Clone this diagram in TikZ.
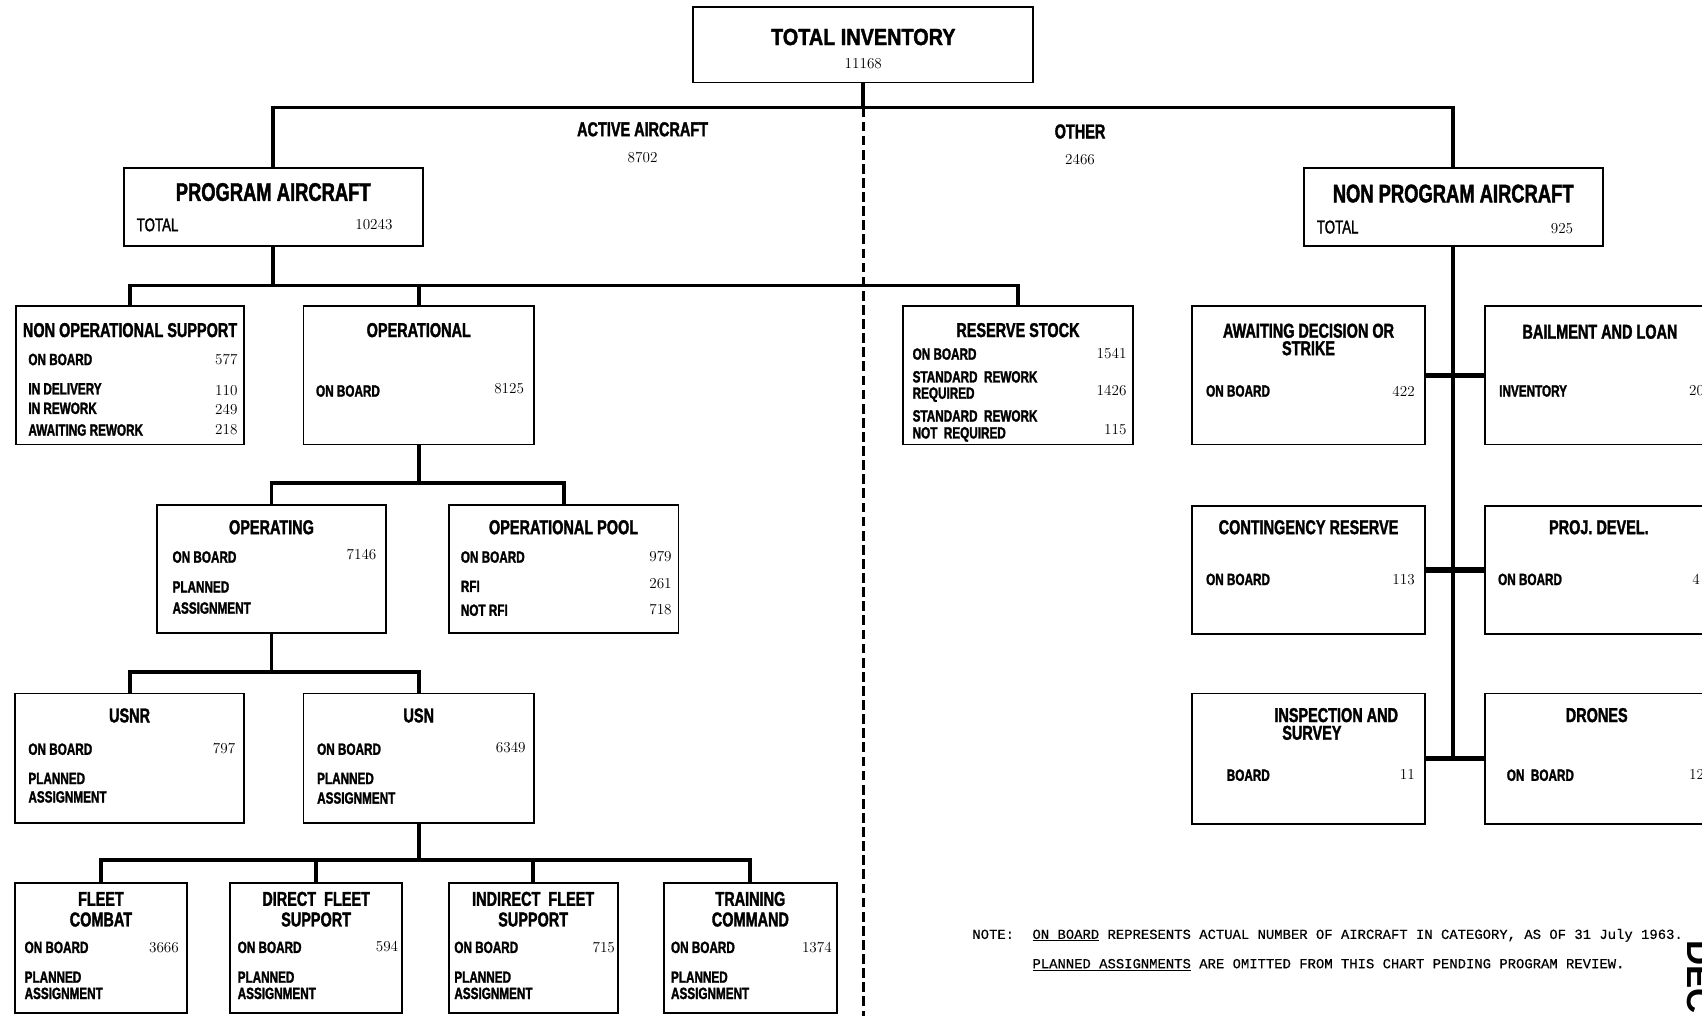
\documentclass[tikz,border=0pt]{standalone}
\usepackage{fontspec}
\usepackage{tikz}
\usetikzlibrary{calc}

\newfontfamily\lblfont[FakeStretch=0.72,FakeBold=1.6]{Liberation Sans}
\newfontfamily\widefont[FakeStretch=0.85,FakeBold=1.6]{Liberation Sans}
\newfontfamily\typfont[FakeBold=0.4]{Liberation Mono}
\newfontfamily\stampfont{Liberation Sans}

\tikzset{
	box/.style 2 args={draw, line width=1.6pt, inner sep=0pt, minimum width=#1, minimum height=#2},
	ttl/.style={font={\lblfont\bfseries\fontsize{18.5}{19}\selectfont}, inner sep=0pt, text height=13pt, text depth=0pt},
	bigttl/.style={font={\lblfont\bfseries\fontsize{23.5}{24}\selectfont}, inner sep=0pt, text height=16.8pt, text depth=0pt},
	row/.style={font={\lblfont\bfseries\fontsize{15}{16}\selectfont}, anchor=west, inner sep=0pt, text height=10.7pt, text depth=0pt},
	tot/.style={font={\lblfont\fontsize{17}{18}\selectfont}, anchor=west, inner sep=0pt, text height=12pt, text depth=0pt},
	num/.style={font={\fontsize{14}{15}\selectfont}, inner sep=0pt, text height=9pt, text depth=0pt},
	conn/.style={line width=3.6pt},
	link/.style={line width=5pt},
	dashline/.style={line width=3pt, dash pattern=on 9pt off 4pt},
	note/.style={font={\typfont\fontsize{12.8}{14}\selectfont}, anchor=base west, inner sep=0pt}
}

\begin{document}
\begin{tikzpicture}[x=1pt, y=-1pt]

	\useasboundingbox (0,0) rectangle (1568,936);
	\clip (0,0) rectangle (1568,936);

	% boxes
	\node[box={313.2pt}{69.5pt}]   (ti)   at (795.3,41.25) {};
	\node[box={275.6pt}{72pt}]     (pa)   at (251.7,190.5) {};
	\node[box={275.5pt}{72pt}]     (npa)  at (1338.75,190.5) {};

	\node[box={209.7pt}{127.5pt}]  (nos)  at (119.85,345.75) {};
	\node[box={212.4pt}{127.5pt}]  (ops)  at (385.8,345.75) {};
	\node[box={212.4pt}{127.5pt}]  (rs)   at (937.8,345.75) {};
	\node[box={215pt}{127.5pt}]    (ads)  at (1205.5,345.75) {};
	\node[box={212pt}{127.5pt}]    (bl)   at (1474,345.75) {};

	\node[box={210.8pt}{118pt}]    (opg)  at (250.1,524) {};
	\node[box={211.6pt}{118pt}]    (pool) at (519.2,524) {};
	\node[box={215pt}{118pt}]      (cr)   at (1205.5,525) {};
	\node[box={212pt}{118pt}]      (pd)   at (1474,525) {};

	\node[box={210.7pt}{119pt}]    (usnr) at (119.35,698.5) {};
	\node[box={212.4pt}{119pt}]    (usn)  at (385.8,698.5) {};
	\node[box={215pt}{120pt}]      (ins)  at (1205.5,699) {};
	\node[box={212pt}{120pt}]      (dr)   at (1474,699) {};

	\node[box={158pt}{119.3pt}]    (fc)   at (93,873.35) {};
	\node[box={158.5pt}{119.3pt}]  (dfs)  at (291.25,873.35) {};
	\node[box={155.6pt}{119.3pt}]  (ifs)  at (491.2,873.35) {};
	\node[box={159.4pt}{119.3pt}]  (tc)   at (691.3,873.35) {};

	% bus lines
	\coordinate (topbus) at (0,99);
	\coordinate (pabus)  at (0,263);
	\coordinate (opsbus) at (0,444.7);
	\coordinate (opgbus) at (0,618.8);
	\coordinate (usnbus) at (0,792);
	\coordinate (foot)   at (0,940);

	\draw[dashline] (ti.south |- topbus) -- (ti.south |- foot);

	\draw[conn] (ti.south) -- (ti.south |- topbus);
	\draw[conn] (pa.north) -- (pa.north |- topbus) -- (npa.north |- topbus) -- (npa.north);

	\draw[conn] (pa.south) -- (pa.south |- pabus);
	\draw[conn] (nos.north) -- (nos.north |- pabus) -- (rs.north |- pabus) -- (rs.north);
	\draw[conn] (ops.north) -- (ops.north |- pabus);

	\draw[conn] (ops.south) -- (ops.south |- opsbus);
	\draw[conn] (opg.north) -- (opg.north |- opsbus) -- (pool.north |- opsbus) -- (pool.north);

	\draw[conn] (opg.south) -- (opg.south |- opgbus);
	\draw[conn] (usnr.north) -- (usnr.north |- opgbus) -- (usn.north |- opgbus) -- (usn.north);

	\draw[conn] (usn.south) -- (usn.south |- usnbus);
	\draw[conn] (fc.north) -- (fc.north |- usnbus) -- (tc.north |- usnbus) -- (tc.north);
	\draw[conn] (dfs.north) -- (dfs.north |- usnbus);
	\draw[conn] (ifs.north) -- (ifs.north |- usnbus);

	% non program column
	\draw[conn] (npa.south) -- (npa.south |- ins.east);
	\draw[link] (ads.east) -- (bl.west);
	\draw[link] (cr.east) -- (pd.west);
	\draw[link] (ins.east) -- (dr.west);

	% headings
	\node[font={\widefont\bfseries\fontsize{21.5}{22}\selectfont}, inner sep=0pt, text height=15.4pt, text depth=0pt] (tit) at (795.3,33.8) {TOTAL INVENTORY};
	\node[num] at (795.3,58.3) {11168};
	\node[ttl] (act) at (592,119) {ACTIVE AIRCRAFT};
	\node[num] at (592,145) {8702};
	\node[ttl] (oth) at (995,121) {OTHER};
	\node[num] at (995,147) {2466};

	\node[bigttl] at (251.7,176.6) {PROGRAM AIRCRAFT};
	\node[tot] at (125.8,207) {TOTAL};
	\node[num] at (344.5,207) {10243};

	\node[bigttl] at (1338.75,178) {NON PROGRAM AIRCRAFT};
	\node[tot] at (1213,209) {TOTAL};
	\node[num] at (1439,211) {925};

	% non operational support
	\node[ttl] at (119.85,304) {NON OPERATIONAL SUPPORT};
	\node[row] at (26,331) {ON BOARD};
	\node[row] at (26,358) {IN DELIVERY};
	\node[row] at (26,376) {IN REWORK};
	\node[row] at (26,396) {AWAITING REWORK};
	\node[num, anchor=east] at (219,331) {577};
	\node[num, anchor=east] at (219,360) {110};
	\node[num, anchor=east] at (219,377) {249};
	\node[num, anchor=east] at (219,396) {218};

	% operational
	\node[ttl] at (385.8,304) {OPERATIONAL};
	\node[row] at (291,360) {ON BOARD};
	\node[num, anchor=east] at (483,358) {8125};

	% reserve stock
	\node[ttl] at (937.8,304) {RESERVE STOCK};
	\node[row] at (840.6,326) {ON BOARD};
	\node[row] at (840.6,347) {STANDARD\ \ REWORK};
	\node[row] at (840.6,362) {REQUIRED};
	\node[row] at (840.6,383) {STANDARD\ \ REWORK};
	\node[row] at (840.6,398.6) {NOT\ \ REQUIRED};
	\node[num, anchor=east] at (1038,326) {1541};
	\node[num, anchor=east] at (1038,360) {1426};
	\node[num, anchor=east] at (1038,396) {115};

	% awaiting decision / bailment
	\node[ttl] at (1205.5,304.6) {AWAITING DECISION OR};
	\node[ttl] at (1205.5,320.7) {STRIKE};
	\node[row] at (1111,360) {ON BOARD};
	\node[num, anchor=east] at (1303.6,361) {422};
	\node[ttl] at (1474,305.5) {BAILMENT AND LOAN};
	\node[row] at (1381,360) {INVENTORY};
	\node[num, anchor=west] at (1556,360) {20};

	% operating / pool
	\node[ttl] at (250.1,485.6) {OPERATING};
	\node[row] at (158.8,513) {ON BOARD};
	\node[row] at (158.8,540.5) {PLANNED};
	\node[row] at (158.8,560) {ASSIGNMENT};
	\node[num, anchor=east] at (347,511) {7146};

	\node[ttl] at (519.2,485.6) {OPERATIONAL POOL};
	\node[row] at (424.4,513) {ON BOARD};
	\node[row] at (424.4,540) {RFI};
	\node[row] at (424.4,562) {NOT RFI};
	\node[num, anchor=east] at (619,513) {979};
	\node[num, anchor=east] at (619,538) {261};
	\node[num, anchor=east] at (619,562) {718};

	% contingency / proj. devel.
	\node[ttl] at (1205.5,485.6) {CONTINGENCY RESERVE};
	\node[row] at (1111,533.6) {ON BOARD};
	\node[num, anchor=east] at (1303.6,533.6) {113};
	\node[ttl] at (1473,485.6) {PROJ. DEVEL.};
	\node[row] at (1380,533.6) {ON BOARD};
	\node[num, anchor=west] at (1559,533.6) {4};

	% usnr / usn
	\node[ttl] at (119.35,659) {USNR};
	\node[row] at (26,690) {ON BOARD};
	\node[row] at (26,717) {PLANNED};
	\node[row] at (26,734) {ASSIGNMENT};
	\node[num, anchor=east] at (217,690) {797};

	\node[ttl] at (385.8,659) {USN};
	\node[row] at (292,690) {ON BOARD};
	\node[row] at (292,717) {PLANNED};
	\node[row] at (292,735) {ASSIGNMENT};
	\node[num, anchor=east] at (484.5,689) {6349};

	% inspection / drones
	\node[ttl] at (1231,658.7) {INSPECTION AND};
	\node[ttl] at (1208.6,675) {SURVEY};
	\node[row] at (1130,714) {BOARD};
	\node[num, anchor=east] at (1303.6,714) {11};
	\node[ttl] at (1471,658.7) {DRONES};
	\node[row] at (1388,714) {ON\ \ BOARD};
	\node[num, anchor=west] at (1556,714) {12};

	% bottom row
	\node[ttl] at (93,828) {FLEET};
	\node[ttl] at (93,847) {COMBAT};
	\node[row] at (22.5,872.6) {ON BOARD};
	\node[row] at (22.5,900) {PLANNED};
	\node[row] at (22.5,915) {ASSIGNMENT};
	\node[num, anchor=east] at (165,873) {3666};

	\node[ttl] at (291.25,828) {DIRECT\ \ FLEET};
	\node[ttl] at (291.25,847) {SUPPORT};
	\node[row] at (218.8,872.6) {ON BOARD};
	\node[row] at (218.8,900) {PLANNED};
	\node[row] at (218.8,915) {ASSIGNMENT};
	\node[num, anchor=east] at (367,872) {594};

	\node[ttl] at (491.2,828) {INDIRECT\ \ FLEET};
	\node[ttl] at (491.2,847) {SUPPORT};
	\node[row] at (418.4,872.6) {ON BOARD};
	\node[row] at (418.4,900) {PLANNED};
	\node[row] at (418.4,915) {ASSIGNMENT};
	\node[num, anchor=east] at (566.7,873) {715};

	\node[ttl] at (691.3,828) {TRAINING};
	\node[ttl] at (691.3,847) {COMMAND};
	\node[row] at (618,872.6) {ON BOARD};
	\node[row] at (618,900) {PLANNED};
	\node[row] at (618,915) {ASSIGNMENT};
	\node[num, anchor=east] at (766.5,873) {1374};

	% note
	\node[note] at (895.6,865) {NOTE:};
	\node[note] at (951,865) {\underline{ON BOARD} REPRESENTS ACTUAL NUMBER OF AIRCRAFT IN CATEGORY, AS OF 31 July 1963.};
	\node[note] at (951,892) {\underline{PLANNED ASSIGNMENTS} ARE OMITTED FROM THIS CHART PENDING PROGRAM REVIEW.};

	% stamp at the edge
	\node[font={\stampfont\bfseries\fontsize{32}{34}\selectfont}, anchor=base west, inner sep=0pt, rotate=-90] at (1555,866) {DEC};

\end{tikzpicture}
\end{document}
